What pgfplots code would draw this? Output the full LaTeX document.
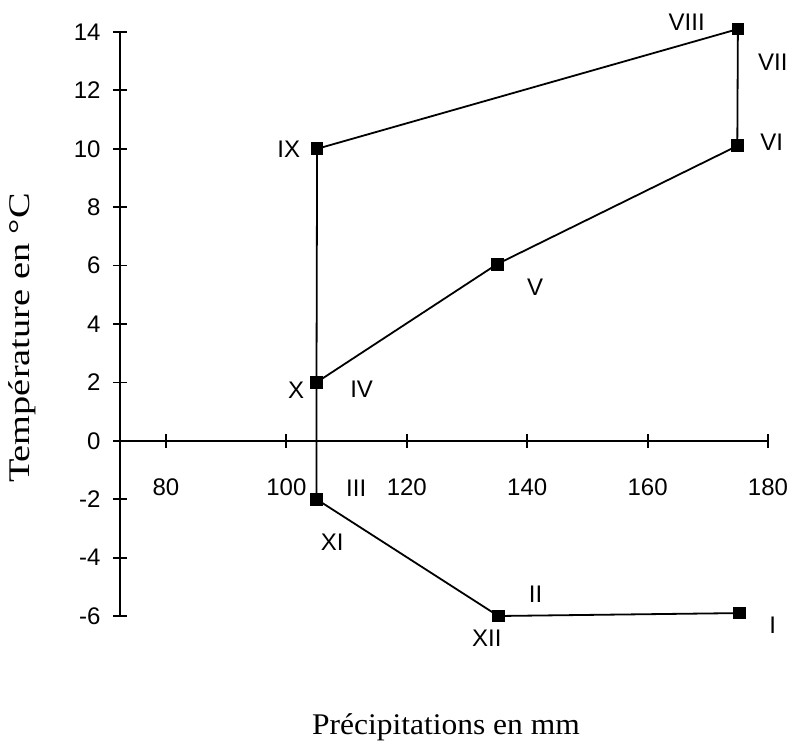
\documentclass[border=0pt]{standalone}
\usepackage{pgfplots}
\pgfplotsset{compat=1.18}
\usepackage{fontspec}
\setmainfont{Liberation Sans}
\newfontfamily\serifl{Liberation Serif}
\usepackage{graphicx}

\begin{document}
\begin{tikzpicture}
\begin{axis}[
  scale only axis, width=648pt, height=584pt,
  xmin=72.36, xmax=180, ymin=-6, ymax=14,
  axis x line=middle, axis y line=left,
  axis line style={-, line width=2.4pt, black},
  hide obscured x ticks=false, hide obscured y ticks=false,
  xtick={80,100,...,180}, ytick={-6,-4,...,14},
  tick align=center, major tick length=14pt,
  tick style={line width=1.8pt, black},
  /pgf/number format/assume math mode=true,
  tick label style={font=\fontsize{24}{28}\selectfont},
  xticklabel style={yshift=-27pt},
  yticklabel style={xshift=-9pt},
  clip=false,
]
\addplot[black, line width=1.8pt, mark=square*, mark size=5.5pt, mark options={solid}] coordinates {
 (175.3,-5.9) (135.2,-6) (105,-2) (105,2) (135,6.05) (174.9,10.1) (175,14.1) (175,14.1) (105.1,10) (105,2) (105,-2) (135.2,-6) (175.3,-5.9)
};
\coordinate (O) at (rel axis cs:0,0);
\begin{scope}[font=\fontsize{24}{28}\selectfont]
\node at (axis cs:166.5,14.34) {VIII};
\node at (axis cs:180.8,12.97) {VII};
\node at (axis cs:180.6,10.23) {VI};
\node at (axis cs:100.4,9.99) {IX};
\node at (axis cs:101.6,1.74) {X};
\node at (axis cs:112.5,1.78) {IV};
\node at (axis cs:141.3,5.27) {V};
\node at (axis cs:111.6,-1.62) {III};
\node at (axis cs:107.6,-3.47) {XI};
\node at (axis cs:133.3,-6.76) {XII};
\node at (axis cs:141.4,-5.25) {II};
\node at (axis cs:180.8,-6.3) {I};
\end{scope}
\node[font=\serifl\fontsize{30}{34}\selectfont] at ([yshift=-111pt]rel axis cs:0.503,0) {\scalebox{1.05}[1]{Précipitations en mm}};
\node[rotate=90, font=\serifl\fontsize{30}{34}\selectfont] at ([xshift=-98pt]rel axis cs:0,0.476) {\scalebox{1.28}[1]{Température en °C}};
\end{axis}
\pgfresetboundingbox
\path[use as bounding box] ([shift={(-120pt,-131pt)}]O) rectangle ++(789pt,747pt);
\end{tikzpicture}
\end{document}
